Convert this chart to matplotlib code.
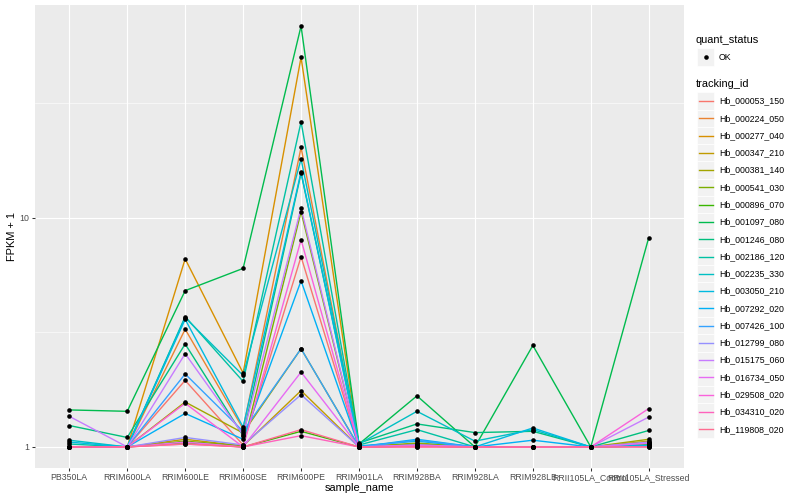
import numpy as np
import matplotlib
matplotlib.use("Agg")
import matplotlib.pyplot as plt
from matplotlib.patches import Rectangle
from matplotlib.lines import Line2D

plt.rcParams['font.family'] = ['Liberation Sans', 'DejaVu Sans']

samples = ["PB350LA", "RRIM600LA", "RRIM600LE", "RRIM600SE", "RRIM600PE",
           "RRIM901LA", "RRIM928BA", "RRIM928LA", "RRIM928LB",
           "RRII105LA_Control", "RRII105LA_Stressed"]

tracking_ids = ["Hb_000053_150", "Hb_000224_050", "Hb_000277_040", "Hb_000347_210",
                "Hb_000381_140", "Hb_000541_030", "Hb_000896_070", "Hb_001097_080",
                "Hb_001246_080", "Hb_002186_120", "Hb_002235_330", "Hb_003050_210",
                "Hb_007292_020", "Hb_007426_100", "Hb_012799_080", "Hb_015175_060",
                "Hb_016734_050", "Hb_029508_020", "Hb_034310_020", "Hb_119808_020"]

colors = ["#F8766D", "#EA8331", "#D89000", "#C09B00", "#A3A500", "#7CAE00",
          "#39B600", "#00BB4E", "#00BF7D", "#00C1A3", "#00BFC4", "#00BAE0",
          "#00B0F6", "#35A2FF", "#9590FF", "#C77CFF", "#E76BF3", "#FA62DB",
          "#FF62BC", "#FF6C91"]

# FPKM values per tracking_id (rows) and sample (columns)
fpkm_053_150 = [0.00, 0.00, 0.95, 0.02, 5.75, 0.00, 0.01, 0.00, 0.00, 0.00, 0.03]
fpkm_224_050 = [0.00, 0.00, 2.26, 0.20, 19.2, 0.00, 0.02, 0.00, 0.00, 0.00, 0.04]
fpkm_277_040 = [0.00, 0.00, 5.60, 1.10, 48.9, 0.00, 0.01, 0.00, 0.00, 0.00, 0.02]
fpkm_347_210 = [0.00, 0.00, 0.08, 0.01, 0.76, 0.00, 0.03, 0.00, 0.00, 0.00, 0.06]
fpkm_381_140 = [0.00, 0.00, 0.57, 0.15, 1.68, 0.00, 0.04, 0.00, 0.00, 0.00, 0.08]
fpkm_541_030 = [0.00, 0.00, 0.06, 0.01, 9.60, 0.00, 0.03, 0.00, 0.00, 0.00, 0.02]
fpkm_896_070 = [0.00, 0.00, 0.04, 0.00, 0.17, 0.00, 0.01, 0.00, 0.00, 0.00, 0.01]
fpkm_1097_080 = [0.45, 0.43, 3.80, 5.00, 67.3, 0.03, 0.67, 0.00, 1.77, 0.00, 7.17]
fpkm_1246_080 = [0.24, 0.10, 1.81, 0.12, 14.6, 0.04, 0.26, 0.155, 0.17, 0.00, 0.18]
fpkm_2186_120 = [0.03, 0.00, 2.70, 0.93, 25.1, 0.02, 0.19, 0.00, 0.00, 0.00, 0.02]
fpkm_2235_330 = [0.07, 0.00, 2.66, 1.05, 17.0, 0.03, 0.43, 0.06, 0.19, 0.00, 0.01]
fpkm_3050_210 = [0.05, 0.00, 2.60, 0.22, 14.8, 0.01, 0.06, 0.00, 0.21, 0.00, 0.01]
fpkm_7292_020 = [0.00, 0.00, 0.40, 0.08, 4.30, 0.00, 0.08, 0.00, 0.07, 0.00, 0.01]
fpkm_7426_100 = [0.00, 0.00, 1.08, 0.17, 1.68, 0.00, 0.07, 0.00, 0.00, 0.00, 0.04]
fpkm_12799_080 = [0.00, 0.00, 0.10, 0.02, 0.69, 0.00, 0.02, 0.00, 0.00, 0.00, 0.05]
fpkm_15175_060 = [0.36, 0.00, 1.55, 0.13, 10.0, 0.00, 0.02, 0.00, 0.00, 0.00, 0.35]
fpkm_16734_050 = [0.00, 0.00, 0.05, 0.00, 1.12, 0.00, 0.01, 0.00, 0.00, 0.00, 0.04]
fpkm_29508_020 = [0.00, 0.00, 0.55, 0.00, 7.00, 0.00, 0.01, 0.00, 0.00, 0.00, 0.47]
fpkm_34310_020 = [0.00, 0.00, 0.03, 0.00, 0.12, 0.00, 0.00, 0.00, 0.00, 0.00, 0.00]
fpkm_119808_020 = [0.00, 0.00, 0.03, 0.00, 0.19, 0.00, 0.00, 0.00, 0.00, 0.00, 0.00]

series = [fpkm_053_150, fpkm_224_050, fpkm_277_040, fpkm_347_210, fpkm_381_140,
          fpkm_541_030, fpkm_896_070, fpkm_1097_080, fpkm_1246_080, fpkm_2186_120,
          fpkm_2235_330, fpkm_3050_210, fpkm_7292_020, fpkm_7426_100, fpkm_12799_080,
          fpkm_15175_060, fpkm_16734_050, fpkm_29508_020, fpkm_34310_020, fpkm_119808_020]

W, H = 800, 500
fig = plt.figure(figsize=(8, 5), dpi=100)
fig.patch.set_facecolor("white")

px_left, px_right, px_top, px_bot = 34.5, 683.5, 5.0, 468.0
ax = fig.add_axes([px_left / W, 1 - px_bot / H, (px_right - px_left) / W, (px_bot - px_top) / H])
ax.set_facecolor("#EBEBEB")
for s in ax.spines.values():
    s.set_visible(False)

x = np.arange(len(samples))
vals = [np.array(v) + 1.0 for v in series]
allv = np.concatenate(vals)
lo, hi = np.log10(allv.min()), np.log10(allv.max())
pad = 0.05 * (hi - lo)
ax.set_yscale("log")
ax.set_ylim(10 ** (lo - pad), 10 ** (hi + pad))
ax.set_xlim(-0.6, len(samples) - 1 + 0.6)

# grid
for yv in [10 ** 0.5, 10 ** 1.5]:
    ax.axhline(yv, color="white", lw=0.4, zorder=0.5)
for yv in [1, 10]:
    ax.axhline(yv, color="white", lw=0.8, zorder=0.6)
for xv in x:
    ax.axvline(xv, color="white", lw=0.8, zorder=0.6)

for v, c in zip(vals, colors):
    ax.plot(x, v, color=c, lw=1.0, zorder=2, solid_capstyle="butt")
for v in vals:
    ax.plot(x, v, linestyle="none", marker="o", markersize=3.3, color="black",
            markeredgewidth=0, zorder=3)

ax.set_xticks(x)
ax.set_xticklabels(samples)
ax.set_yticks([1, 10])
ax.set_yticklabels(["1", "10"])
ax.minorticks_off()
ax.tick_params(axis="both", length=2.0, width=0.75, color="#333333",
               labelsize=6.3, labelcolor="#4D4D4D", pad=1.6)

fig.text(px_left / W + (px_right - px_left) / W / 2, 1 - 488 / H, "sample_name",
         ha="center", va="center", fontsize=7.9, color="black")
fig.text(12 / W, 1 - (px_top + px_bot) / 2 / H, "FPKM + 1", rotation=90,
         ha="center", va="center", fontsize=7.9, color="black")

# legends
def fx(p):
    return p / W

def fy(p):
    return 1 - p / H

fig.text(fx(696), fy(40), "quant_status", ha="left", va="center", fontsize=7.9)
key = 17.28
kx0 = 697
cy = 57
fig.add_artist(Rectangle((fx(kx0), fy(cy + key / 2)), key / W, key / H,
                         transform=fig.transFigure, facecolor="#F2F2F2",
                         edgecolor="white", lw=0.5))
fig.add_artist(Line2D([fx(kx0 + key / 2)], [fy(cy)], transform=fig.transFigure,
                      marker="o", markersize=3.3, color="black", markeredgewidth=0,
                      linestyle="none"))
fig.text(fx(719), fy(cy), "OK", ha="left", va="center", fontsize=6.3)

fig.text(fx(696), fy(84), "tracking_id", ha="left", va="center", fontsize=7.9)
for i, (tid, c) in enumerate(zip(tracking_ids, colors)):
    cy = 101 + i * key
    fig.add_artist(Rectangle((fx(kx0), fy(cy + key / 2)), key / W, key / H,
                             transform=fig.transFigure, facecolor="#F2F2F2",
                             edgecolor="white", lw=0.5))
    fig.add_artist(Line2D([fx(kx0 + 1.7), fx(kx0 + key - 1.7)], [fy(cy), fy(cy)],
                          transform=fig.transFigure, color=c, lw=1.0))
    fig.text(fx(719), fy(cy), tid, ha="left", va="center", fontsize=6.3)

fig.savefig("out.png", dpi=100)
